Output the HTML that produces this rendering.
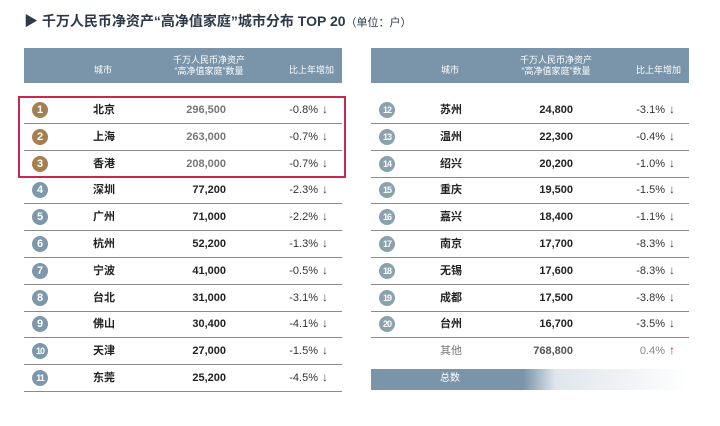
<!DOCTYPE html>
<html><head><meta charset="utf-8">
<style>
body{margin:0;background:#fff;width:720px;height:426px;overflow:hidden;position:relative;font-family:"Liberation Sans","Noto Sans CJK SC",sans-serif;}
.a{position:absolute;}
.hdr{position:absolute;background:#7a95aa;color:#fff;font-size:9px;}
.c{position:absolute;width:16px;height:16px;border-radius:50%;color:#fff;font-size:11px;font-weight:bold;text-align:center;line-height:16px;}
.t{position:absolute;font-size:11px;color:#222;white-space:nowrap;line-height:14px;}
.ln{position:absolute;height:1px;background:#8a8a8a;}
</style></head><body>
<div class="a" style="left:24px;top:11px;font-size:14px;font-weight:bold;color:#2e3a48;white-space:nowrap;">▶ 千万人民币净资产“高净值家庭”城市分布 TOP 20<span style="font-size:11px;font-weight:normal">（单位：户）</span></div>
<div id="root"></div>
<script>
const ranksL=[1,2,3,4,5,6,7,8,9,10,11];
const citiesL=["北京","上海","香港","深圳","广州","杭州","宁波","台北","佛山","天津","东莞"];
const valuesL=["296,500","263,000","208,000","77,200","71,000","52,200","41,000","31,000","30,400","27,000","25,200"];
const changesL=["-0.8%","-0.7%","-0.7%","-2.3%","-2.2%","-1.3%","-0.5%","-3.1%","-4.1%","-1.5%","-4.5%"];
const ranksR=[12,13,14,15,16,17,18,19,20];
const citiesR=["苏州","温州","绍兴","重庆","嘉兴","南京","无锡","成都","台州"];
const valuesR=["24,800","22,300","20,200","19,500","18,400","17,700","17,600","17,500","16,700"];
const changesR=["-3.1%","-0.4%","-1.0%","-1.5%","-1.1%","-8.3%","-8.3%","-3.8%","-3.5%"];
const root=document.getElementById('root');
function mk(cls,style,txt){const e=document.createElement('div');e.className=cls;e.style.cssText=style;if(txt!==undefined)e.textContent=txt;root.appendChild(e);return e;}
function header(x){
 const h=mk('hdr',`left:${x}px;top:48px;width:318px;height:35px;`);
 
 
 const a=mk('t',`left:${x+70}px;top:63px;font-size:9px;color:#fff;`,'城市');
 
 
 const b=mk('t',`left:${x+130}px;top:55px;width:110px;text-align:center;font-size:9px;color:#fff;line-height:11px;white-space:normal`,'');
 b.innerHTML='千万人民币净资产<br>“高净值家庭”数量';
 
 
 const c=mk('t',`left:${x+265}px;top:63px;font-size:9px;color:#fff;`,'比上年增加');
 
 
}
header(24);header(371);
const pitch=26.8,y0=110;
function rows(x,ranks,cities,values,changes,side){
 ranks.forEach((r,i)=>{
  const cy=y0+i*pitch;
  const top3=side==='L'&&i<3;
  const col=top3?'#a57f52':(side==='L'?'#7d97ab':'#8aa1ae');
  const c=mk('c',`left:${x+8}px;top:${cy-8}px;background:${col};${r>9?'font-size:9px;letter-spacing:-1px;':''}`,String(r));
  
  
  const n=mk('t',`left:${x+69}px;top:${cy-7}px;font-weight:bold;`,cities[i]);
  
  
  const v=mk('t',`left:${x+100}px;width:102px;text-align:right;top:${cy-7}px;font-weight:bold;color:${top3?'#777':'#222'};`,values[i]);
  
  
  const ch=mk('t',`left:${x+230}px;width:64px;text-align:right;top:${cy-7}px;color:#333;`,changes[i]);
  
  
  const ar=mk('t',`left:${x+298}px;top:${cy-8}px;color:#444;font-weight:bold;font-size:12px;`,'↓');
  
  
  const l=mk('ln',`left:${x}px;width:318px;top:${Math.round(cy+13)}px;`);
  
  
 });
}
rows(24,ranksL,citiesL,valuesL,changesL,'L');
rows(371,ranksR,citiesR,valuesR,changesR,'R');
const oy=y0+9*pitch;
let e=mk('t',`left:440px;top:${oy-7}px;color:#777;`,'其他');


e=mk('t',`left:471px;width:102px;text-align:right;top:${oy-7}px;color:#555;font-weight:bold;`,'768,800');


e=mk('t',`left:601px;width:64px;text-align:right;top:${oy-7}px;color:#888;`,'0.4%');


e=mk('t',`left:669px;top:${oy-8}px;color:#c0262c;font-weight:bold;font-size:12px;`,'↑');


e=mk('a',`left:371px;top:369px;width:318px;height:21px;background:linear-gradient(to right,#7a95aa 0,#7a95aa 48%,#dfe6ec 58%,#fff 100%);`);


e=mk('t',`left:440px;top:372px;color:#fff;font-size:10px;`,'总数');


e=mk('a',`left:18px;top:96px;width:324px;height:78px;border:2px solid #c9294f;`);


</script>
</body></html>
